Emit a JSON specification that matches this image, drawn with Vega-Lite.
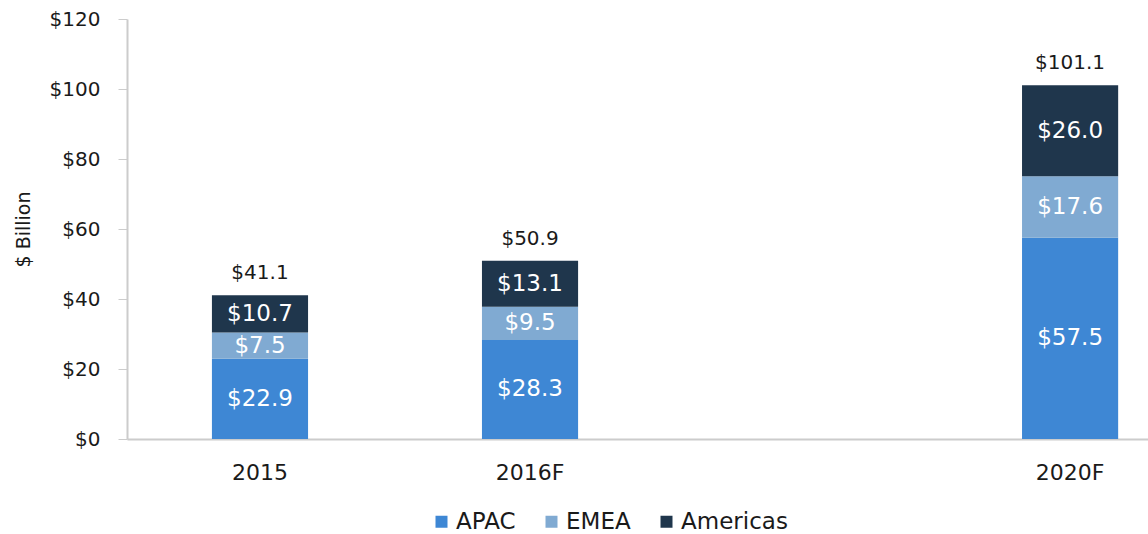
{
  "$schema": "https://vega.github.io/schema/vega-lite/v6.json",
  "autosize": "none",
  "padding": {"left": 127, "top": 19, "right": 0, "bottom": 95},
  "width": 1021,
  "height": 420,
  "background": "#ffffff",
  "config": {
    "view": {"stroke": null},
    "font": "DejaVu Sans",
    "text": {"font": "DejaVu Sans"}
  },
  "data": {
    "values": [
      {"year": "2015", "region": "APAC", "rank": 1, "value": 22.9},
      {"year": "2015", "region": "EMEA", "rank": 2, "value": 7.5},
      {"year": "2015", "region": "Americas", "rank": 3, "value": 10.7},
      {"year": "2016F", "region": "APAC", "rank": 1, "value": 28.3},
      {"year": "2016F", "region": "EMEA", "rank": 2, "value": 9.5},
      {"year": "2016F", "region": "Americas", "rank": 3, "value": 13.1},
      {"year": "2020F", "region": "APAC", "rank": 1, "value": 57.5},
      {"year": "2020F", "region": "EMEA", "rank": 2, "value": 17.6},
      {"year": "2020F", "region": "Americas", "rank": 3, "value": 26.0}
    ]
  },
  "transform": [
    {"stack": "value", "groupby": ["year"], "sort": [{"field": "rank", "order": "ascending"}], "as": ["v0", "v1"]}
  ],
  "encoding": {
    "x": {
      "field": "year",
      "type": "ordinal",
      "scale": {"domain": ["2015", "2016F", " ", "2020F"], "paddingInner": 0.644, "paddingOuter": 0.2125, "align": 0.74},
      "axis": {
        "title": null,
        "labelAngle": 0,
        "ticks": false,
        "labelPadding": 23,
        "labelFontSize": 22,
        "labelColor": "#1a1a1a",
        "domainColor": "#cccccc",
        "domainWidth": 2
      }
    }
  },
  "layer": [
    {
      "mark": {"type": "bar"},
      "encoding": {
        "y": {
          "field": "v0",
          "type": "quantitative",
          "scale": {"domain": [0, 120], "nice": false},
          "axis": {
            "title": "$ Billion",
            "titleFontSize": 19,
            "titleFontWeight": "normal",
            "titleColor": "#1a1a1a",
            "titlePadding": 16,
            "values": [0, 20, 40, 60, 80, 100, 120],
            "format": "$,.0f",
            "labelFontSize": 20,
            "labelColor": "#1a1a1a",
            "labelPadding": 18,
            "tickSize": 9,
            "tickColor": "#cccccc",
            "domainColor": "#cccccc",
            "domainWidth": 2,
            "grid": false
          }
        },
        "y2": {"field": "v1"},
        "color": {
          "field": "region",
          "type": "nominal",
          "scale": {"domain": ["APAC", "EMEA", "Americas"], "range": ["#3e87d4", "#80aad2", "#1f364c"]},
          "legend": {
            "title": null,
            "orient": "none",
            "legendX": 303,
            "legendY": 491,
            "direction": "horizontal",
            "symbolType": "square",
            "symbolSize": 144,
            "symbolStrokeWidth": 0,
            "labelFontSize": 23,
            "labelColor": "#1a1a1a",
            "labelOffset": 3,
            "columnPadding": 24
          }
        }
      }
    },
    {
      "transform": [
        {"fold": ["v0", "v1"], "as": ["k", "pos"]},
        {"aggregate": [{"op": "mean", "field": "pos", "as": "mid"}], "groupby": ["year", "region", "value"]}
      ],
      "mark": {"type": "text", "color": "#ffffff", "fontSize": 23, "baseline": "middle"},
      "encoding": {
        "y": {"field": "mid", "type": "quantitative"},
        "text": {"field": "value", "type": "quantitative", "format": "$.1f"}
      }
    },
    {
      "mark": {"type": "text", "color": "#1a1a1a", "fontSize": 20, "baseline": "bottom", "dy": -12},
      "encoding": {
        "y": {"field": "v1", "type": "quantitative", "aggregate": "max"},
        "text": {"field": "value", "type": "quantitative", "aggregate": "sum", "format": "$.1f"}
      }
    }
  ]
}
